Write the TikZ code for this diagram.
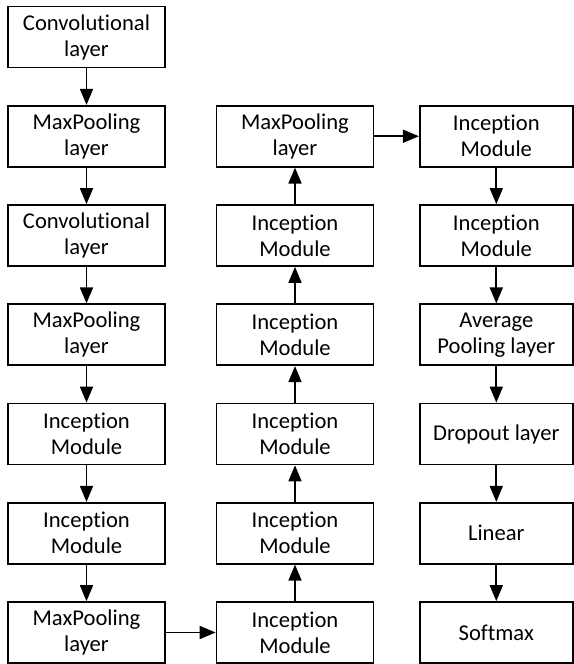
\documentclass[tikz,border=0pt]{standalone}
\usepackage{fontspec}
\setmainfont{Carlito}[Ligatures=NoCommon]
\usetikzlibrary{arrows.meta}
\begin{document}
\begin{tikzpicture}[x=1pt,y=-1pt,
  blk/.style={draw, line width=1.7pt, minimum height=61pt, align=center,
    inner sep=0pt, font=\fontsize{22.6}{26}\selectfont},
  wa/.style={blk, minimum width=157pt},
  wb/.style={blk, minimum width=153pt},
  conn/.style={line width=1.7pt, -{Triangle[length=16pt,width=13pt]}}]
\useasboundingbox (0,0) rectangle (573,664);
% column 1
\node[wa] (a1) at (86.5,37) {Convolutional\\layer};
\node[wa] (a2) at (86.5,136.25) {MaxPooling\\layer};
\node[wa] (a3) at (86.5,235.5) {Convolutional\\layer};
\node[wa] (a4) at (86.5,334.75) {MaxPooling\\layer};
\node[wa] (a5) at (86.5,434) {Inception\\Module};
\node[wa] (a6) at (86.5,533.25) {Inception\\Module};
\node[wa] (a7) at (86.5,632.5) {MaxPooling\\layer};
% column 2
\node[wa] (b2) at (295,136.25) {MaxPooling\\layer};
\node[wa] (b3) at (295,235.5) {Inception\\Module};
\node[wa] (b4) at (295,334.75) {Inception\\Module};
\node[wa] (b5) at (295,434) {Inception\\Module};
\node[wa] (b6) at (295,533.25) {Inception\\Module};
\node[wa] (b7) at (295,632.5) {Inception\\Module};
% column 3
\node[wb] (c2) at (496.3,136.25) {Inception\\Module};
\node[wb] (c3) at (496.3,235.5) {Inception\\Module};
\node[wb] (c4) at (496.3,334.75) {Average\\Pooling layer};
\node[wb] (c5) at (496.3,434) {Dropout layer};
\node[wb] (c6) at (496.3,533.25) {Linear};
\node[wb] (c7) at (496.3,632.5) {Softmax};
% connectors
\draw[conn] (a1) -- (a2);
\draw[conn] (a2) -- (a3);
\draw[conn] (a3) -- (a4);
\draw[conn] (a4) -- (a5);
\draw[conn] (a5) -- (a6);
\draw[conn] (a6) -- (a7);
\draw[conn] (a7) -- (b7);
\draw[conn] (b7) -- (b6);
\draw[conn] (b6) -- (b5);
\draw[conn] (b5) -- (b4);
\draw[conn] (b4) -- (b3);
\draw[conn] (b3) -- (b2);
\draw[conn] (b2) -- (c2);
\draw[conn] (c2) -- (c3);
\draw[conn] (c3) -- (c4);
\draw[conn] (c4) -- (c5);
\draw[conn] (c5) -- (c6);
\draw[conn] (c6) -- (c7);
\end{tikzpicture}
\end{document}
